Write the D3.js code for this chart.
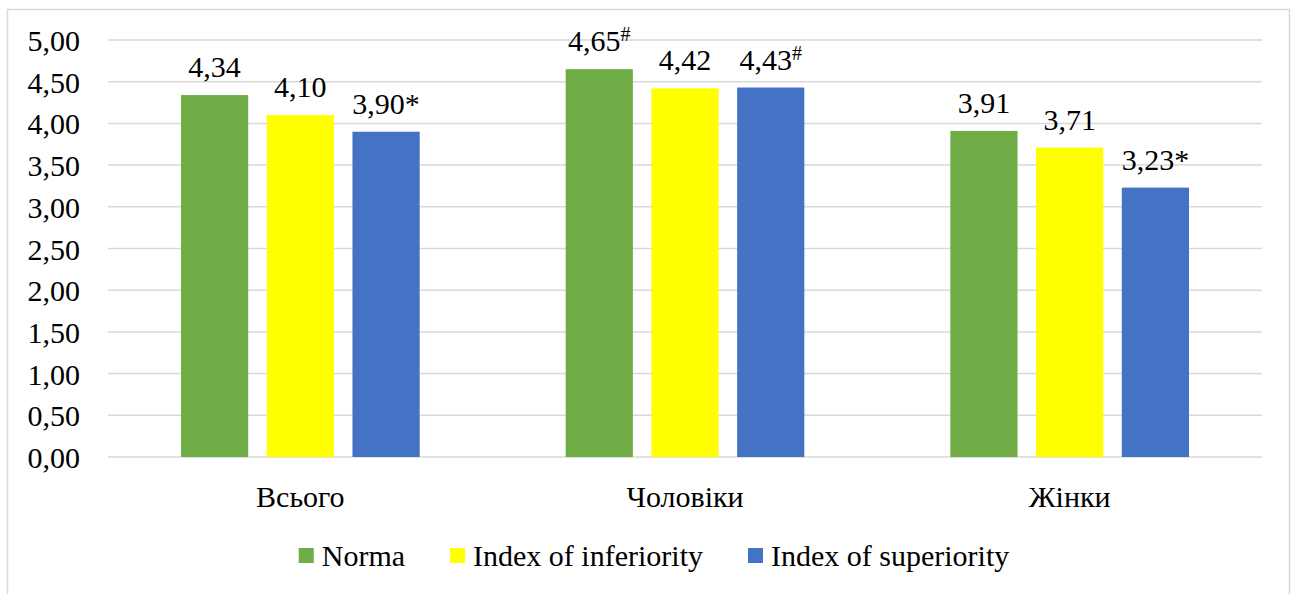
<!DOCTYPE html>
<html><head><meta charset="utf-8">
<script src="https://cdn.jsdelivr.net/npm/d3@7"></script>
<style>body{margin:0;background:#fff}svg{display:block}</style>
</head><body><svg id="c" width="1293" height="594"></svg>
<script>
const categories = ["Всього", "Чоловіки", "Жінки"];
const seriesNames = ["Norma", "Index of inferiority", "Index of superiority"];
const norma = [4.34, 4.65, 3.91];
const inferiority = [4.10, 4.42, 3.71];
const superiority = [3.90, 4.43, 3.23];
const marks = [["", "#", ""], ["", "", ""], ["*", "#", "*"]];
const colors = ["#70ad47", "#ffff00", "#4472c4"];
const yTicks = [0, 0.5, 1, 1.5, 2, 2.5, 3, 3.5, 4, 4.5, 5];

const values = [norma, inferiority, superiority];
const svg = d3.select("#c");
const L = 108, R = 1262, T = 40, B = 457;
const fs = 30;
function serif(sel) { sel.each(function () { this.style.setProperty("font-family", "'Liberation Serif', 'Times New Roman', serif", "important"); }); return sel; }

svg.append("rect").attr("x", 7.5).attr("y", 9.5).attr("width", 1282).attr("height", 600)
  .attr("fill", "none").attr("stroke", "#d9d9d9").attr("stroke-width", 1.5);

const y = d3.scaleLinear().domain([0, 5]).range([B, T]);
const x0 = d3.scaleBand().domain(categories).range([L, R]).padding(0);
const outer = 73;
const x1 = d3.scaleBand().domain(seriesNames).range([outer, x0.bandwidth() - outer]).paddingInner(0.216).paddingOuter(0);

svg.append("g").selectAll("line").data(yTicks).join("line")
  .attr("x1", L).attr("x2", R).attr("y1", d => y(d)).attr("y2", d => y(d))
  .attr("stroke", "#d9d9d9").attr("stroke-width", 1.5);

const yAxis = d3.axisLeft(y).tickValues(yTicks).tickSize(0).tickPadding(0)
  .tickFormat(d => d3.format(".2f")(d).replace(".", ","));
const gy = svg.append("g").attr("transform", `translate(80,0)`).call(yAxis);
gy.select(".domain").remove();
gy.attr("font-family", null).attr("font-size", null);
serif(gy.selectAll("text").attr("font-size", fs).attr("fill", "#000").attr("dy", "0.35em"));

const data = [];
categories.forEach((c, i) => seriesNames.forEach((s, j) => data.push({c, s, j, v: values[j][i], m: marks[j][i]})));

svg.append("g").selectAll("rect").data(data).join("rect")
  .attr("x", d => x0(d.c) + x1(d.s)).attr("width", x1.bandwidth())
  .attr("y", d => y(d.v)).attr("height", d => y(0) - y(d.v))
  .attr("fill", d => colors[d.j]);

const lab = svg.append("g").selectAll("text").data(data).join("text")
  .attr("x", d => x0(d.c) + x1(d.s) + x1.bandwidth() / 2)
  .attr("y", d => y(d.v) - 18)
  .attr("text-anchor", "middle").attr("font-size", fs).attr("fill", "#000");
serif(lab);
lab.append("tspan").text(d => d3.format(".2f")(d.v).replace(".", ","));
lab.filter(d => d.m === "*").append("tspan").text("*");
lab.filter(d => d.m === "#").append("tspan").attr("font-size", 20).attr("dy", -10).text("#");

const xAxis = d3.axisBottom(x0).tickSize(0).tickPadding(0);
const gx = svg.append("g").attr("transform", `translate(0,${B})`).call(xAxis);
gx.select(".domain").remove();
gx.attr("font-family", null).attr("font-size", null);
serif(gx.selectAll("text").attr("font-size", fs).attr("fill", "#000").attr("dy", 0).attr("y", 50));

// legend
const lg = svg.append("g");
const items = lg.selectAll("g").data(seriesNames).join("g");
items.append("rect").attr("width", 15).attr("height", 15).attr("y", 548).attr("fill", (d, i) => colors[i]);
serif(items.append("text").attr("x", 23).attr("y", 566).attr("font-size", fs).attr("fill", "#000").text(d => d));
let widths = [];
items.select("text").each(function () { widths.push(this.getComputedTextLength()); });
const itemW = widths.map(w => 23 + w);
const gap = 45;
const total = d3.sum(itemW) + gap * (itemW.length - 1);
let cx = 654 - total / 2;
items.attr("transform", (d, i) => { const t = `translate(${cx},0)`; cx += itemW[i] + gap; return t; });
</script></body></html>
